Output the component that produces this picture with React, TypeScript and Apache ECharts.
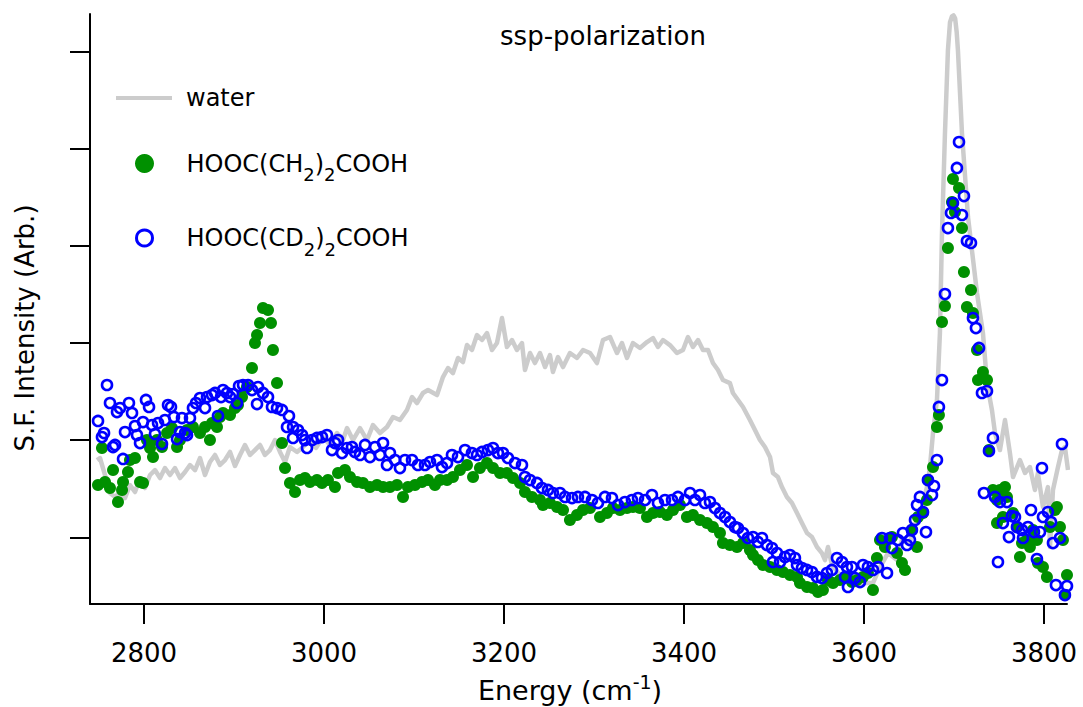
import React, { useEffect, useRef } from "react";
import * as echarts from "echarts";

const xTicks = [2800, 3000, 3200, 3400, 3600, 3800];
const yTicks = [1, 2, 3, 4, 5, 6];

const waterSpectrum: [number, number][] = [
  [2747.8,1.795],[2751.1,1.816],[2756.7,1.641],[2762.2,1.456],[2767.8,1.415],[2773.3,1.466],[2778.9,1.404],[2784.4,1.538],[2790.0,1.466],[2795.6,1.610],
  [2801.1,1.507],[2806.7,1.641],[2812.2,1.692],[2817.8,1.610],[2823.3,1.713],[2828.9,1.641],[2834.4,1.713],[2840.0,1.610],[2845.6,1.672],[2851.1,1.744],
  [2856.7,1.692],[2862.2,1.816],[2867.8,1.641],[2873.3,1.775],[2878.9,1.847],[2884.4,1.744],[2890.0,1.795],[2895.6,1.878],[2901.1,1.734],[2906.7,1.847],
  [2912.2,1.950],[2917.8,1.847],[2923.3,1.898],[2928.9,1.950],[2934.4,1.847],[2940.0,1.898],[2945.6,2.001],[2951.1,1.878],[2956.7,1.775],[2962.2,1.929],
  [2970.0,1.878],[2976.7,1.929],[2984.4,2.001],[2991.1,1.919],[2998.9,2.032],[3006.7,1.950],[3014.4,2.073],[3021.1,2.001],[3025.6,2.124],[3032.2,2.001],
  [3040.0,2.124],[3047.8,2.001],[3054.4,2.155],[3062.2,2.073],[3070.0,2.135],[3076.7,2.238],[3084.4,2.207],[3092.2,2.310],[3097.8,2.443],[3103.3,2.382],
  [3110.0,2.485],[3115.6,2.515],[3125.6,2.464],[3132.2,2.649],[3137.8,2.742],[3143.3,2.690],[3148.9,2.845],[3154.4,2.803],[3158.9,2.978],[3164.4,2.927],
  [3170.0,3.081],[3175.6,3.030],[3181.1,3.102],[3186.7,2.927],[3192.2,2.999],[3197.8,3.256],[3203.3,2.958],[3208.9,3.030],[3214.4,2.927],[3220.0,2.999],
  [3223.3,2.721],[3228.9,2.896],[3234.4,2.793],[3240.0,2.896],[3245.6,2.752],[3251.1,2.875],[3254.4,2.701],[3260.0,2.855],[3265.6,2.752],[3273.3,2.896],
  [3281.1,2.845],[3287.8,2.927],[3295.6,2.896],[3303.3,2.793],[3310.0,3.030],[3317.8,3.061],[3325.6,2.896],[3331.1,2.999],[3336.7,2.845],[3343.3,2.999],
  [3351.1,2.948],[3358.9,3.009],[3365.6,3.050],[3371.1,2.958],[3376.7,3.030],[3384.4,2.978],[3392.2,2.896],[3398.9,2.927],[3404.4,3.061],[3410.0,2.958],
  [3415.6,3.030],[3421.1,2.927],[3426.7,2.927],[3432.2,2.793],[3437.8,2.721],[3443.3,2.618],[3451.1,2.587],[3454.4,2.485],[3465.6,2.341],[3473.3,2.207],
  [3478.9,2.104],[3484.4,2.001],[3490.0,1.929],[3495.6,1.826],[3498.9,1.662],[3504.4,1.620],[3508.9,1.517],[3514.4,1.415],[3520.0,1.353],[3525.6,1.250],
  [3531.1,1.147],[3536.7,1.044],[3542.2,1.003],[3547.8,0.900],[3553.3,0.838],[3556.7,0.766],[3560.0,0.900],[3564.4,0.715],[3573.3,0.612],[3582.2,0.561],
  [3591.1,0.509],[3601.1,0.530],[3610.0,0.530],[3617.8,0.694],[3626.7,0.838],[3636.7,0.766],[3642.2,0.972],[3651.1,0.941],[3654.4,1.106],[3662.2,1.209],
  [3670.0,1.517],[3673.3,1.723],[3676.7,2.073],[3681.1,2.413],[3684.4,3.102],[3686.7,4.131],[3690.0,5.159],[3693.3,6.013],[3695.6,6.300],[3697.8,6.360],
  [3699.5,6.370],[3701.3,6.340],[3703.0,6.200],[3704.4,6.013],[3708.9,5.159],[3715.6,4.295],[3725.6,3.513],[3732.2,3.102],[3736.7,2.587],[3742.2,2.310],
  [3745.6,2.073],[3751.1,1.898],[3756.7,2.207],[3762.2,1.867],[3765.6,1.620],[3773.3,1.795],[3778.9,1.662],[3784.4,1.723],[3790.0,1.487],[3793.3,1.662],
  [3798.9,1.312],[3804.4,1.517],[3806.7,0.900],[3810.0,1.487],[3815.6,1.723],[3820.0,1.898],[3823.3,1.929],[3826.7,1.692],
];

const ch2Spectrum: [number, number][] = [
  [2748.9,1.538],[2753.3,1.919],[2756.7,1.569],[2762.2,1.507],[2765.6,1.692],[2771.1,1.363],[2775.6,1.487],[2776.7,1.569],[2782.2,1.672],[2784.4,1.795],
  [2790.0,1.816],[2795.6,1.569],[2798.9,1.559],[2803.3,2.001],[2806.7,1.919],[2810.0,1.826],[2814.4,2.001],[2820.0,1.929],[2825.6,2.073],[2831.1,2.124],
  [2836.7,1.929],[2840.0,2.001],[2847.8,2.104],[2854.4,2.135],[2862.2,2.073],[2867.8,2.135],[2873.3,2.001],[2875.6,2.176],[2881.1,2.135],[2884.4,2.238],
  [2887.8,2.279],[2895.6,2.258],[2901.1,2.330],[2904.4,2.361],[2908.9,2.443],[2914.4,2.546],[2920.0,2.742],[2923.3,2.999],[2925.6,3.081],[2928.9,3.205],
  [2932.2,3.359],[2937.8,3.338],[2941.1,3.205],[2943.3,2.927],[2947.8,2.587],[2953.3,1.970],[2956.7,1.713],[2962.2,1.559],[2967.8,1.466],[2973.3,1.589],
  [2978.9,1.610],[2984.4,1.569],[2992.2,1.589],[2997.8,1.559],[3004.4,1.589],[3012.2,1.517],[3015.6,1.662],[3023.3,1.692],[3028.9,1.620],[3036.7,1.569],
  [3043.3,1.559],[3051.1,1.517],[3058.9,1.538],[3065.6,1.517],[3073.3,1.517],[3081.1,1.538],[3087.8,1.415],[3093.3,1.517],[3101.1,1.538],[3108.9,1.569],
  [3115.6,1.589],[3123.3,1.538],[3128.9,1.589],[3136.7,1.589],[3143.3,1.620],[3151.1,1.692],[3158.9,1.744],[3165.6,1.620],[3173.3,1.713],[3181.1,1.764],
  [3187.8,1.713],[3195.6,1.662],[3203.3,1.662],[3210.0,1.610],[3217.8,1.559],[3223.3,1.466],[3231.1,1.415],[3240.0,1.384],[3243.3,1.332],[3251.1,1.353],
  [3258.9,1.312],[3265.6,1.281],[3273.3,1.178],[3281.1,1.229],[3287.8,1.281],[3295.6,1.301],[3306.7,1.209],[3314.4,1.250],[3321.1,1.301],[3328.9,1.281],
  [3336.7,1.301],[3343.3,1.312],[3351.1,1.301],[3358.9,1.209],[3365.6,1.250],[3373.3,1.260],[3381.1,1.229],[3387.8,1.281],[3395.6,1.332],[3403.3,1.209],
  [3410.0,1.229],[3417.8,1.178],[3425.6,1.147],[3432.2,1.106],[3440.0,1.044],[3443.3,0.941],[3451.1,0.921],[3458.9,0.900],[3465.6,0.941],[3473.3,0.869],
  [3476.7,0.818],[3482.2,0.766],[3487.8,0.715],[3495.6,0.694],[3503.3,0.664],[3510.0,0.643],[3517.8,0.612],[3525.6,0.592],[3528.9,0.530],[3536.7,0.489],
  [3543.3,0.478],[3548.9,0.437],[3554.4,0.458],[3560.0,0.561],[3565.6,0.530],[3573.3,0.561],[3581.1,0.592],[3586.7,0.540],[3592.2,0.561],[3598.9,0.592],
  [3604.4,0.633],[3610.0,0.458],[3614.4,0.787],[3617.8,0.972],[3623.3,0.900],[3631.1,1.003],[3636.7,0.838],[3642.2,0.736],[3645.6,0.664],[3653.3,1.075],
  [3658.9,0.900],[3660.0,1.209],[3665.6,1.250],[3670.0,1.384],[3671.1,1.589],[3676.7,1.723],[3681.1,2.135],[3683.3,2.258],[3686.7,3.215],[3690.0,3.380],
  [3693.3,3.976],[3697.8,4.450],[3698.9,4.686],[3701.1,4.347],[3705.6,4.594],[3708.9,4.182],[3711.1,3.729],[3714.4,3.369],[3718.9,3.544],[3721.1,3.308],
  [3725.6,2.927],[3726.7,2.618],[3732.2,2.701],[3736.7,2.618],[3738.9,1.898],[3743.3,1.487],[3747.8,1.384],[3751.1,1.487],[3756.7,1.517],[3758.9,1.415],
  [3747.8,1.147],[3754.4,1.209],[3765.6,1.250],[3770.0,1.106],[3773.3,0.797],[3775.6,0.941],[3781.1,0.972],[3784.4,0.900],[3787.8,1.075],[3792.2,0.972],
  [3793.3,0.736],[3798.9,0.694],[3803.3,0.592],[3806.7,1.106],[3812.2,1.281],[3814.4,1.312],[3817.8,1.106],[3821.1,0.972],[3823.3,0.406],[3825.6,0.612],
];

const cd2Spectrum: [number, number][] = [
  [2748.9,2.197],[2753.3,2.032],[2755.6,2.073],[2758.9,2.567],[2762.2,2.382],[2765.6,1.929],[2767.8,1.950],[2770.0,2.289],[2773.3,2.330],[2776.7,1.806],
  [2778.9,2.083],[2783.3,2.382],[2786.7,2.279],[2790.0,2.145],[2792.2,2.052],[2795.6,1.970],[2798.9,2.186],[2802.2,2.413],[2805.6,2.341],[2808.9,2.155],
  [2812.2,2.063],[2815.6,2.176],[2820.0,1.960],[2823.3,2.207],[2826.7,2.361],[2830.0,2.341],[2833.3,2.238],[2836.7,2.011],[2840.0,2.083],[2842.2,2.227],
  [2845.6,2.073],[2847.8,2.052],[2851.1,2.227],[2854.4,2.330],[2857.8,2.382],[2862.2,2.433],[2867.8,2.330],[2870.0,2.443],[2875.6,2.464],[2878.9,2.485],
  [2882.2,2.248],[2885.6,2.443],[2887.8,2.515],[2892.2,2.485],[2895.6,2.443],[2898.9,2.474],[2903.3,2.382],[2905.6,2.556],[2910.0,2.567],[2915.6,2.567],
  [2920.0,2.515],[2925.6,2.371],[2926.7,2.546],[2932.2,2.485],[2937.8,2.443],[2942.2,2.341],[2947.8,2.330],[2953.3,2.310],[2961.1,2.248],[2958.9,2.135],
  [2965.6,2.135],[2971.1,2.104],[2965.6,2.022],[2975.6,2.052],[2978.9,2.001],[2981.1,1.919],[2986.7,2.001],[2992.2,2.022],[2997.8,2.032],[3003.3,2.052],
  [3008.9,1.898],[3012.2,1.970],[3015.6,2.001],[3020.0,1.867],[3025.6,1.919],[3031.1,1.929],[3034.4,1.878],[3040.0,1.847],[3045.6,1.950],[3051.1,1.826],
  [3056.7,1.929],[3062.2,1.847],[3065.6,1.970],[3070.0,1.744],[3073.3,1.867],[3078.9,1.795],[3084.4,1.713],[3090.0,1.795],[3097.8,1.795],[3104.4,1.744],
  [3112.2,1.744],[3117.8,1.775],[3125.6,1.795],[3131.1,1.723],[3136.7,1.764],[3142.2,1.847],[3148.9,1.826],[3156.7,1.898],[3164.4,1.867],[3170.0,1.847],
  [3175.6,1.878],[3182.2,1.898],[3187.8,1.919],[3193.3,1.867],[3198.9,1.867],[3204.4,1.816],[3212.2,1.764],[3220.0,1.744],[3223.3,1.620],[3228.9,1.589],
  [3236.7,1.559],[3242.2,1.507],[3248.9,1.487],[3254.4,1.456],[3262.2,1.456],[3267.8,1.415],[3275.6,1.404],[3282.2,1.415],[3290.0,1.415],[3297.8,1.384],
  [3304.4,1.353],[3312.2,1.415],[3320.0,1.404],[3326.7,1.332],[3334.4,1.363],[3342.2,1.384],[3348.9,1.404],[3356.7,1.384],[3364.4,1.435],[3371.1,1.353],
  [3378.9,1.384],[3386.7,1.384],[3393.3,1.415],[3401.1,1.384],[3406.7,1.456],[3412.2,1.384],[3417.8,1.435],[3423.3,1.353],[3428.9,1.363],[3434.4,1.301],
  [3440.0,1.250],[3445.6,1.209],[3451.1,1.157],[3456.7,1.106],[3460.0,1.095],[3465.6,1.044],[3471.1,0.993],[3476.7,1.003],[3482.2,0.952],[3486.7,0.993],
  [3492.2,0.921],[3497.8,0.890],[3503.3,0.838],[3498.9,0.746],[3506.7,0.746],[3512.2,0.797],[3517.8,0.818],[3523.3,0.787],[3525.6,0.715],[3531.1,0.684],
  [3536.7,0.664],[3542.2,0.643],[3547.8,0.592],[3553.3,0.581],[3558.9,0.633],[3564.4,0.664],[3570.0,0.787],[3575.6,0.746],[3578.9,0.592],[3581.1,0.694],
  [3582.2,0.489],[3586.7,0.694],[3590.0,0.581],[3595.6,0.540],[3598.9,0.715],[3604.4,0.694],[3610.0,0.664],[3615.6,0.694],[3620.0,0.993],[3625.6,0.633],
  [3628.9,0.993],[3631.1,0.890],[3637.8,0.972],[3643.3,1.044],[3647.8,0.921],[3651.1,0.972],[3653.3,1.075],[3656.7,1.178],[3658.9,1.332],[3662.2,1.415],
  [3665.6,1.260],[3668.9,1.054],[3671.1,1.589],[3675.6,1.435],[3677.8,1.528],[3681.1,1.795],[3683.3,2.341],[3686.7,2.618],[3690.0,3.503],[3693.3,4.182],
  [3696.7,4.337],[3698.9,4.439],[3703.3,4.800],[3705.6,5.067],[3708.9,4.316],[3711.1,4.511],[3714.4,4.048],[3718.9,4.028],[3721.1,3.256],[3724.4,3.153],
  [3727.8,2.948],[3731.1,2.485],[3736.7,2.505],[3738.9,1.888],[3743.3,2.022],[3733.3,1.456],[3745.6,1.415],[3748.9,0.746],[3751.1,1.363],[3754.4,1.147],
  [3758.9,1.363],[3761.1,1.003],[3764.4,1.219],[3767.8,1.209],[3770.0,1.106],[3775.6,1.075],[3776.7,0.993],[3782.2,1.106],[3785.6,1.281],[3788.9,1.054],
  [3792.2,0.777],[3795.6,1.054],[3797.8,1.713],[3798.9,1.209],[3804.4,1.260],[3807.8,1.157],[3810.0,0.941],[3813.3,0.509],[3817.8,0.993],[3820.0,1.960],
  [3823.3,0.406],[3825.6,0.499],
];

const FONT = '"DejaVu Sans", sans-serif';
const NAME_WATER = "water";
const NAME_CH2 = "HOOC(CH2)2COOH";
const NAME_CD2 = "HOOC(CD2)2COOH";

const richFormula = (name: string) => {
  if (name === NAME_CH2) return "{m|HOOC(CH}{s|2}{m|)}{s|2}{m|COOH}";
  if (name === NAME_CD2) return "{m|HOOC(CD}{s|2}{m|)}{s|2}{m|COOH}";
  return "{m|" + name + "}";
};

const legendText = {
  fontFamily: FONT,
  fontSize: 24,
  color: "#000",
  padding: [0, 0, 0, 9],
  rich: {
    m: { fontFamily: FONT, fontSize: 24, color: "#000" },
    s: { fontFamily: FONT, fontSize: 18, color: "#000", padding: [22, 0, 0, 0] },
  },
};

export default function App() {
  const ref = useRef<HTMLDivElement>(null);
  useEffect(() => {
    const chart = echarts.init(ref.current!, null, { renderer: "svg" });
    chart.setOption({
      animation: false,
      backgroundColor: "#ffffff",
      grid: { left: 90, right: 16, top: 14, bottom: 103, containLabel: false },
      xAxis: {
        type: "value",
        min: 2740,
        max: 3825.6,
        splitLine: { show: false },
        axisLine: { show: true, onZero: false, lineStyle: { color: "#000", width: 2 } },
        axisTick: { show: true, customValues: xTicks, length: 20, inside: false, lineStyle: { color: "#000", width: 2 } },
        axisLabel: {
          show: true, customValues: xTicks, margin: 36, fontFamily: FONT, fontSize: 26, color: "#000",
          formatter: (v: number) => String(Math.round(v)),
        },
      },
      yAxis: {
        type: "value",
        min: 0.314,
        max: 6.384,
        splitLine: { show: false },
        axisLine: { show: true, onZero: false, lineStyle: { color: "#000", width: 2 } },
        axisTick: { show: true, customValues: yTicks, length: 20, inside: false, lineStyle: { color: "#000", width: 2 } },
        axisLabel: { show: false },
      },
      legend: [
        {
          data: [{ name: NAME_WATER, icon: "rect" }],
          left: 116, top: 86, padding: 0, orient: "vertical",
          itemWidth: 56, itemHeight: 4, selectedMode: false,
          itemStyle: { color: "#cccccc", borderWidth: 0, opacity: 1 },
          formatter: richFormula, textStyle: legendText,
        },
        {
          data: [{ name: NAME_CH2, icon: "circle" }],
          left: 135, top: 151.5, padding: 0, orient: "vertical",
          itemWidth: 56, itemHeight: 19, selectedMode: false,
          itemStyle: { color: "#009000", borderWidth: 0, opacity: 1 },
          formatter: richFormula, textStyle: legendText,
        },
        {
          data: [{ name: NAME_CD2, icon: "circle" }],
          left: 135, top: 226, padding: 0, orient: "vertical",
          itemWidth: 56, itemHeight: 16, selectedMode: false,
          itemStyle: { color: "rgba(255,255,255,0)", borderColor: "#0000ff", borderWidth: 3, opacity: 1 },
          formatter: richFormula, textStyle: legendText,
        },
      ],
      graphic: [
        {
          type: "text", x: 603, y: 36,
          style: { text: "ssp-polarization", font: '26px "DejaVu Sans", sans-serif', fill: "#000", align: "center", verticalAlign: "middle", textAlign: "center", textVerticalAlign: "middle" },
        },
        {
          type: "text", x: 25, y: 328, rotation: Math.PI / 2,
          style: { text: "S.F. Intensity (Arb.)", font: '26px "DejaVu Sans", sans-serif', fill: "#000", align: "center", verticalAlign: "middle", textAlign: "center", textVerticalAlign: "middle" },
        },
        {
          type: "text", x: 570, y: 690,
          style: {
            text: "{m|Energy (cm}{p|-1}{m|)}",
            font: '27px "DejaVu Sans", sans-serif', fill: "#000",
            align: "center", verticalAlign: "middle", textAlign: "center", textVerticalAlign: "middle",
            rich: {
              m: { fontFamily: FONT, fontSize: 27, fill: "#000" },
              p: { fontFamily: FONT, fontSize: 19, fill: "#000", padding: [0, 0, 16, 0] },
            },
          },
        },
      ],
      series: [
        {
          name: NAME_WATER, type: "line", data: waterSpectrum, symbol: "none", z: 1,
          lineStyle: { color: "#cccccc", width: 4.5, join: "round", opacity: 1 },
          itemStyle: { color: "#cccccc" },
          emphasis: { disabled: true },
        },
        {
          name: NAME_CH2, type: "scatter", data: ch2Spectrum, symbol: "circle", symbolSize: 12, z: 2,
          itemStyle: { color: "#009000", opacity: 1 },
          emphasis: { disabled: true },
        },
        {
          name: NAME_CD2, type: "scatter", data: cd2Spectrum, symbol: "circle", symbolSize: 10, z: 3,
          itemStyle: { color: "rgba(255,255,255,0)", borderColor: "#0000ff", borderWidth: 2.6, opacity: 1 },
          emphasis: { disabled: true },
        },
      ],
    });
    return () => chart.dispose();
  }, []);
  return <div ref={ref} style={{ position: "absolute", left: 0, top: 0, width: 1083, height: 707 }} />;
}
